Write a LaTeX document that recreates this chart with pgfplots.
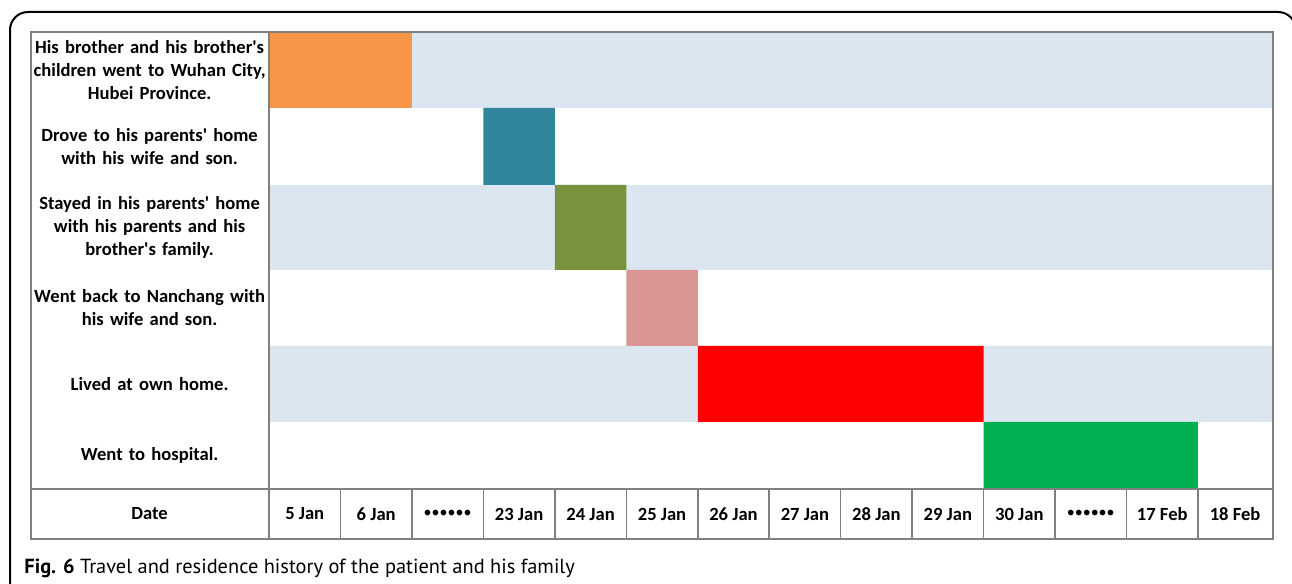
\documentclass[border=0pt]{standalone}
\usepackage{pgfplots}
\pgfplotsset{compat=1.18}
\usepackage{fontspec}
\setmainfont{Carlito}[Ligatures=TeXOff]
\newfontfamily\capfont{PT Sans}

\definecolor{bandblue}{RGB}{220,230,241}
\definecolor{cOrange}{RGB}{247,150,70}
\definecolor{cTeal}{RGB}{49,133,156}
\definecolor{cOlive}{RGB}{119,147,60}
\definecolor{cPink}{RGB}{218,150,148}
\definecolor{cRed}{RGB}{255,0,0}
\definecolor{cGreen}{RGB}{0,176,80}
\definecolor{gridgray}{RGB}{128,128,128}

\newcommand{\skipdots}{{\mdseries\fontsize{8}{10}\selectfont ••••••}}

\begin{document}
\begin{tikzpicture}
% 1 px of the reference = 0.5pt
\useasboundingbox (0,0) rectangle (646pt,292pt);
\draw[line width=1pt, rounded corners=9pt] (5pt,-20pt) rectangle (648pt,286pt);

\begin{axis}[
    at={(134.5pt,22.5pt)}, anchor=south west,
    scale only axis, width=502pt, height=253.5pt,
    xmin=0, xmax=14.05, ymin=-50, ymax=457,
    axis on top, clip=false,
    axis line style={gridgray, line width=0.75pt},
    major tick length=0,
    font=\bfseries\fontsize{9.3}{11.5}\selectfont,
    xtick={0.5,1.5,...,12.5,13.52},
    xticklabels={5 Jan,6 Jan,\skipdots,23 Jan,24 Jan,25 Jan,26 Jan,27 Jan,28 Jan,29 Jan,30 Jan,\skipdots,17 Feb,18 Feb},
    xticklabel style={anchor=center, yshift=12.5pt},
    ytick={419,342.5,261.5,181,105,33.5},
    yticklabels={
        {His brother and his brother's\\children went to Wuhan City,\\Hubei Province.},
        {Drove to his parents' home\\with his wife and son.},
        {Stayed in his parents' home\\with his parents and his\\brother's family.},
        {Went back to Nanchang with\\his wife and son.},
        {Lived at own home.},
        {Went to hospital.}},
    extra y ticks={-25}, extra y tick labels={Date},
    yticklabel style={align=center, text width=118pt, anchor=east, inner sep=0.5pt},
]
% background bands (rows 1, 3, 5)
\addplot[fill=bandblue, draw=none] coordinates {(0,381)(14.05,381)(14.05,457)(0,457)(0,381)};
\addplot[fill=bandblue, draw=none] coordinates {(0,219)(14.05,219)(14.05,304)(0,304)(0,219)};
\addplot[fill=bandblue, draw=none] coordinates {(0,67)(14.05,67)(14.05,143)(0,143)(0,67)};
% activity bars
\addplot[fill=cOrange, draw=none] coordinates {(0,381)(2,381)(2,457)(0,457)(0,381)};
\addplot[fill=cTeal, draw=none] coordinates {(3,304)(4,304)(4,381)(3,381)(3,304)};
\addplot[fill=cOlive, draw=none] coordinates {(4,219)(5,219)(5,304)(4,304)(4,219)};
\addplot[fill=cPink, draw=none] coordinates {(5,143)(6,143)(6,219)(5,219)(5,143)};
\addplot[fill=cRed, draw=none] coordinates {(6,67)(10,67)(10,143)(6,143)(6,67)};
\addplot[fill=cGreen, draw=none] coordinates {(10,0)(13,0)(13,67)(10,67)(10,0)};

% table rules
\draw[gridgray, line width=0.75pt] (axis cs:-3.331,-50) rectangle (axis cs:0,457);
\draw[gridgray, line width=0.75pt] (axis cs:-3.331,0) -- (axis cs:14.05,0);
\pgfplotsinvokeforeach{1,...,13}{
  \draw[gridgray, line width=0.75pt] (axis cs:#1,-50) -- (axis cs:#1,0);
}
\end{axis}

\node[anchor=west, inner sep=0pt] at (12pt,8pt)
  {\capfont\fontsize{10.2}{12}\selectfont\textbf{Fig. 6} Travel and residence history of the patient and his family};
\end{tikzpicture}
\end{document}
